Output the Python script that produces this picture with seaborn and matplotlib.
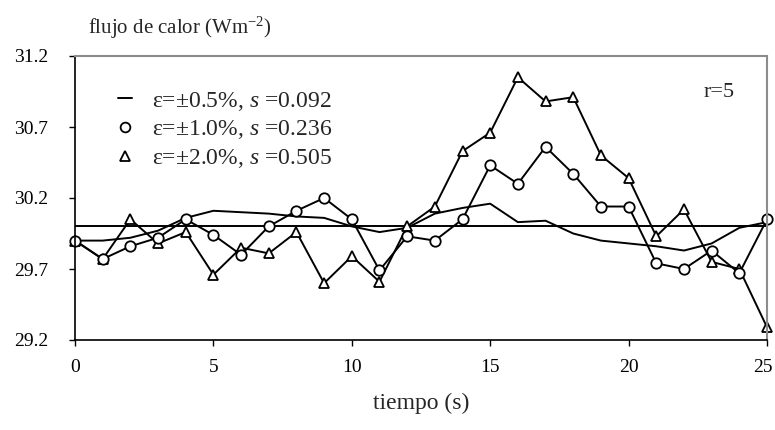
import matplotlib
matplotlib.use('Agg')
import matplotlib.pyplot as plt
from matplotlib.lines import Line2D
from matplotlib.transforms import ScaledTranslation
import seaborn as sns

# tiempo (s)
tiempo = list(range(26))

# flujo estimado, epsilon = 0.5 %
flujo_05 = [29.90, 29.90, 29.92, 29.97, 30.06, 30.11, 30.10, 30.09, 30.07, 30.06,
            30.00, 29.96, 29.99, 30.09, 30.13, 30.16, 30.03, 30.04, 29.95, 29.90,
            29.88, 29.86, 29.83, 29.88, 29.99, 30.03]
# epsilon = 1.0 %
flujo_10 = [29.90, 29.77, 29.86, 29.92, 30.05, 29.94, 29.80, 30.00, 30.11, 30.20,
            30.05, 29.69, 29.93, 29.90, 30.05, 30.43, 30.30, 30.56, 30.37, 30.14,
            30.14, 29.74, 29.70, 29.83, 29.67, 30.05]
# epsilon = 2.0 %
flujo_20 = [29.90, 29.77, 30.05, 29.88, 29.96, 29.66, 29.85, 29.81, 29.96, 29.60,
            29.79, 29.61, 30.00, 30.14, 30.53, 30.66, 31.05, 30.88, 30.91, 30.50,
            30.34, 29.93, 30.12, 29.75, 29.70, 29.29]
# valor exacto
tiempo_exacto = [0, 25]
flujo_exacto = [30.0, 30.0]

etiquetas = [r'ε=±0.5%, $s$ =0.092', r'ε=±1.0%, $s$ =0.236', r'ε=±2.0%, $s$ =0.505']
yticks = [29.2, 29.7, 30.2, 30.7, 31.2]
xticks = [0, 5, 10, 15, 20, 25]

sns.set_style('white')
plt.rcParams['font.family'] = ['Liberation Serif', 'DejaVu Serif']
plt.rcParams['mathtext.fontset'] = 'custom'
plt.rcParams['mathtext.rm'] = 'Liberation Serif'
plt.rcParams['mathtext.it'] = 'Liberation Serif:italic'

fig = plt.figure(figsize=(7.75, 4.3), dpi=100)
ax = fig.add_axes([75/775, 90/430, 692/775, 284/430])

lw = 1.4
sns.lineplot(x=tiempo_exacto, y=flujo_exacto, color='black', lw=lw, ax=ax)
sns.lineplot(x=tiempo, y=flujo_05, color='black', lw=lw, ax=ax)
sns.lineplot(x=tiempo, y=flujo_20, color='black', lw=lw, marker='^', markersize=7.5,
             markerfacecolor='white', markeredgecolor='black', markeredgewidth=1.3,
             ax=ax, clip_on=False)
sns.lineplot(x=tiempo, y=flujo_10, color='black', lw=lw, marker='o', markersize=7.5,
             markerfacecolor='white', markeredgecolor='black', markeredgewidth=1.3,
             ax=ax, clip_on=False)

ax.set_xlim(0, 25)
ax.set_ylim(29.2, 31.2)
ax.set_xticks(xticks)
ax.set_yticks(yticks)
ax.set_yticklabels(['%.1f' % v for v in yticks])
ax.tick_params(axis='both', direction='out', length=4.5, width=1, colors='black',
               labelsize=14)
ax.tick_params(axis='y', pad=15)
ax.tick_params(axis='x', pad=9)
ax.tick_params(left=True, bottom=True)

# last x label sits on the figure edge, nudge it in a little
last = ax.get_xticklabels()[-1]
last.set_transform(last.get_transform() + ScaledTranslation(-3/72, 0, fig.dpi_scale_trans))

for s in ['left', 'bottom']:
    ax.spines[s].set_color('black')
    ax.spines[s].set_linewidth(1.2)
for s in ['top', 'right']:
    ax.spines[s].set_color('#8c8c8c')
    ax.spines[s].set_linewidth(1.5)

ax.set_xlabel('tiempo (s)', fontsize=17, labelpad=12)
ax.set_ylabel('')
fig.text(88/775, 1 - 28/430, r'flujo de calor (Wm$^{\mathregular{-2}}$)', fontsize=15,
         ha='left', va='center')
ax.text(22.7, 30.94, 'r=5', fontsize=16, ha='left', va='center')

custom_legend = [
    Line2D([0], [0], color='black', lw=lw),
    Line2D([0], [0], color='black', lw=0, marker='o', markersize=7,
           markerfacecolor='white', markeredgewidth=1.3),
    Line2D([0], [0], color='black', lw=0, marker='^', markersize=7,
           markerfacecolor='white', markeredgewidth=1.3),
]
ax.legend(custom_legend, etiquetas, loc='upper left', bbox_to_anchor=(0.0486, 0.915),
          frameon=False, fontsize=17, handlelength=0.6, handletextpad=0.85,
          labelspacing=0.25, borderaxespad=0)

plt.savefig('out.png', dpi=100)
